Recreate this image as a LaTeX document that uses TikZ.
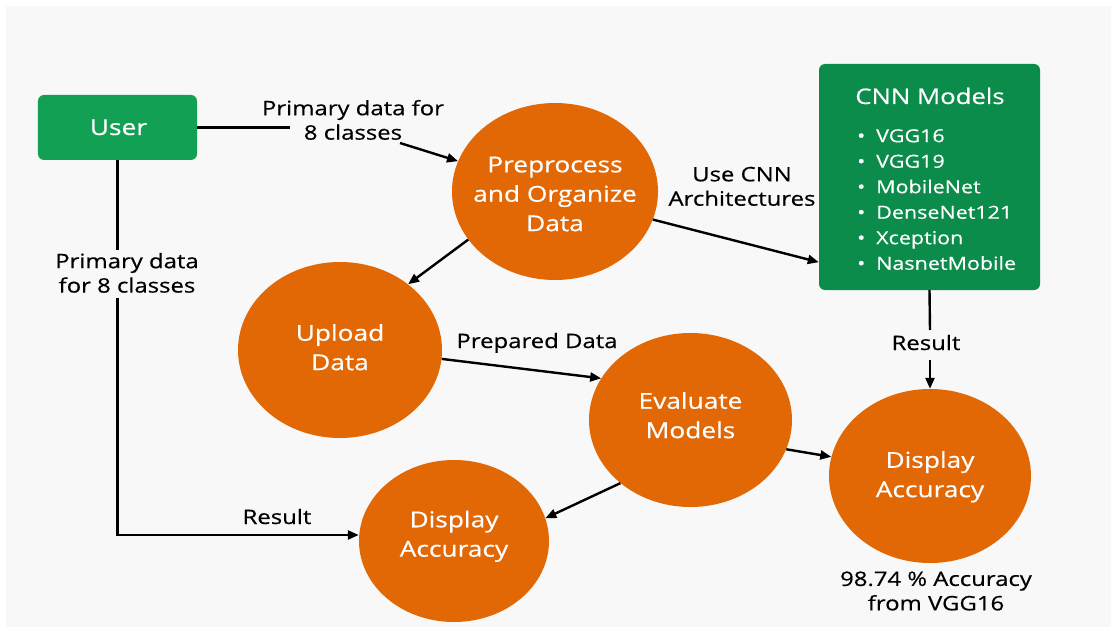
\documentclass[tikz,border=0pt]{standalone}
\usepackage{fontspec}
\setmainfont[FakeStretch=1.2,FakeBold=0.5]{Open Sans}
\usetikzlibrary{arrows.meta,shapes.geometric}
\definecolor{bgc}{HTML}{F8F8F8}
\definecolor{orng}{HTML}{E26806}
\definecolor{ugreen}{HTML}{12A154}
\definecolor{cgreen}{HTML}{0B8C4B}
\newcommand{\bul}{\makebox[19bp][l]{\textbullet}}
\begin{document}
\begin{tikzpicture}[x=1bp,y=-1bp,
  proc/.style={ellipse, fill=orng, draw=none, inner sep=0pt},
  ctext/.style={text=white, align=center, inner sep=0pt, font=\fontsize{22}{29.5}\selectfont},
  lab/.style={text=black, align=center, inner sep=0pt, font=\fontsize{20}{24.5}\selectfont},
  gbox/.style={rectangle, rounded corners=6bp, draw=none, inner sep=0pt},
  arr/.style={line width=2.4bp, -{Triangle[length=11bp,width=9bp]}},
  ln/.style={line width=2.4bp},
]
\fill[white] (0,0) rectangle (1118,633);
\fill[bgc] (6,6) rectangle (1111,627);
\useasboundingbox (0,0) rectangle (1118,633);

% boxes
\node[gbox, fill=ugreen, minimum width=159bp, minimum height=65bp] (user) at (117.5,127.5) {};
\node[text=white, inner sep=0pt, font=\fontsize{22}{26}\selectfont, anchor=base] (usertxt) at (118.5,135) {User};
\node[gbox, fill=cgreen, minimum width=221bp, minimum height=226bp] (cnn) at (929.5,177) {};
\node[text=white, inner sep=0pt, font=\fontsize{21.5}{24}\selectfont, anchor=base] (cnntitle) at (930,104) {CNN Models};
\node[text=white, inner sep=0pt, align=left, anchor=north west, font=\fontsize{18}{25.6}\selectfont] (cnnlist) at (857,129)
  {\bul VGG16\\\bul VGG19\\\bul MobileNet\\\bul DenseNet121\\\bul Xception\\\bul NasnetMobile};

% process ellipses
\node[proc, minimum width=206bp, minimum height=177bp] (pre) at (555,191.5) {};
\node[ctext] (pretxt) at (555,194) {Preprocess\\and Organize\\Data};
\node[proc, minimum width=204bp, minimum height=176bp] (up) at (340,350) {};
\node[ctext] (uptxt) at (340,347.2) {Upload\\Data};
\node[proc, minimum width=203bp, minimum height=174bp] (ev) at (690.5,420) {};
\node[ctext] (evtxt) at (690.5,415.2) {Evaluate\\Models};
\node[proc, minimum width=202bp, minimum height=174bp] (dispR) at (930,476) {};
\node[ctext] (dispRtxt) at (930,476.8) {Display\\Accuracy};
\node[proc, minimum width=190bp, minimum height=162bp] (dispL) at (454,541) {};
\node[ctext] (dispLtxt) at (454,536.3) {Display\\Accuracy};

% labels
\node[lab] (l1) at (353,119.9) {Primary data for\\8 classes};
\node[lab] (l2) at (127,272.9) {Primary data\\for 8 classes};
\node[lab] (l3) at (742,186.4) {Use CNN\\Architectures};
\node[lab, anchor=base] (l4) at (537,348) {Prepared Data};
\node[lab, anchor=base] (l5) at (926,350) {Result};
\node[lab, anchor=base] (l6) at (277,524) {Result};
\node[lab] (l7) at (936,591) {98.74 \% Accuracy\\from VGG16};

% connector free ends
\coordinate (c1) at (290,127.5);
\coordinate (c2) at (400,143);
\coordinate (c3) at (117.5,250);
\coordinate (c4) at (117.5,298);
\coordinate (c5) at (930,330);
\coordinate (c6) at (930,360);

% connectors
\draw[ln] (user.east) -- (c1);
\draw[arr] (c2) -- (pre);
\draw[ln] (user.south) -- (c3);
\draw[arr] (c4) |- ([yshift=6bp]dispL.west);
\draw[arr] (pre.209) -- (up.44);
\draw[arr] (pre.-16) -- ([yshift=28bp]cnn.south west);
\draw[arr] (up.-5) -- (ev.155);
\draw[ln] (cnn.south) -- (c5);
\draw[arr] (c6) -- (dispR.north);
\draw[arr] (ev.-17) -- (dispR.169);
\draw[arr] (ev.222) -- (dispL.14);
\end{tikzpicture}
\end{document}
